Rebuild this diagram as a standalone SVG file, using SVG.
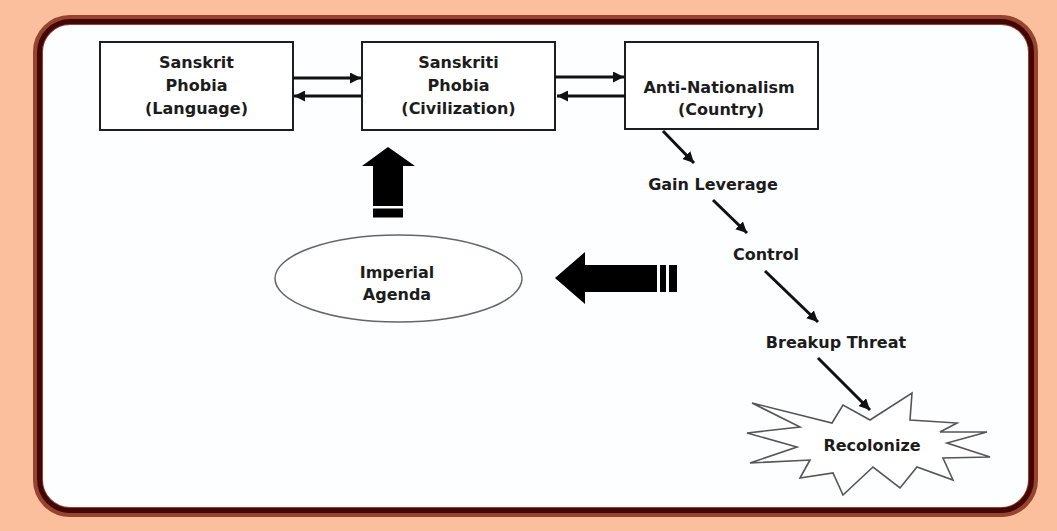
<svg xmlns="http://www.w3.org/2000/svg" width="1057" height="531" viewBox="0 0 1057 531">
<defs>
<style>
.lbl{font-family:"DejaVu Sans",Verdana,sans-serif;font-weight:bold;font-size:16px;fill:#1c1c1c;text-anchor:middle}
.box{fill:#ffffff;stroke:#1e1e1e;stroke-width:2}
.con{stroke:#111;stroke-width:3;fill:none}
.big{fill:#000}
</style>
<marker id="ah" markerUnits="userSpaceOnUse" markerWidth="12" markerHeight="11" refX="11" refY="5.5" orient="auto">
<path d="M0,0 L11,5.5 L0,11 z" fill="#111"/>
</marker>
</defs>
<rect x="0" y="0" width="1057" height="531" fill="#fbbf9e"/>
<rect x="38" y="20" width="995" height="492" rx="32" ry="32" fill="#fdfeff" stroke="#96432f" stroke-width="10"/>
<rect x="39.5" y="21.5" width="992" height="489" rx="31" ry="31" fill="none" stroke="#420705" stroke-width="5"/>

<g id="box-language">
<rect class="box" x="100" y="42" width="193" height="88"/>
<text class="lbl" x="196.5" y="68">Sanskrit</text>
<text class="lbl" x="196.5" y="91">Phobia</text>
<text class="lbl" x="196.5" y="114">(Language)</text>
</g>
<g id="box-civilization">
<rect class="box" x="362" y="42" width="193" height="88"/>
<text class="lbl" x="458.5" y="68">Sanskriti</text>
<text class="lbl" x="458.5" y="91">Phobia</text>
<text class="lbl" x="458.5" y="114">(Civilization)</text>
</g>
<g id="box-country">
<rect class="box" x="625" y="42" width="193" height="87" stroke-width="3"/>
<text class="lbl" x="719" y="93">Anti-Nationalism</text>
<text class="lbl" x="721" y="115">(Country)</text>
</g>
<g id="gain-leverage"><text class="lbl" x="713" y="190">Gain Leverage</text></g>
<g id="control"><text class="lbl" x="766" y="260">Control</text></g>
<g id="breakup-threat"><text class="lbl" x="836" y="348">Breakup Threat</text></g>
<g id="recolonize">
<polygon points="752,403 832,423 843,405 870,420 912,393 910,420 957,423 940,432 987,432 947,443 990,457 943,458 953,480 917,467 900,488 873,467 843,495 833,473 800,478 810,460 750,463 797,447 747,433 800,427" fill="#ffffff" stroke="#555" stroke-width="1.6" stroke-linejoin="miter"/>
<text class="lbl" x="872" y="451">Recolonize</text>
</g>
<g id="imperial-agenda">
<ellipse cx="398.5" cy="278.5" rx="123.5" ry="43.5" fill="#ffffff" stroke="#666" stroke-width="1.5"/>
<text class="lbl" x="397" y="278">Imperial</text>
<text class="lbl" x="397" y="300">Agenda</text>
</g>

<g id="connectors">
<line class="con" x1="293" y1="78" x2="361" y2="78" marker-end="url(#ah)"/>
<line class="con" x1="362" y1="96" x2="294" y2="96" marker-end="url(#ah)"/>
<line class="con" x1="555" y1="77" x2="624" y2="77" marker-end="url(#ah)"/>
<line class="con" x1="625" y1="96" x2="557" y2="96" marker-end="url(#ah)"/>
<line class="con" x1="663" y1="131" x2="694" y2="163" marker-end="url(#ah)"/>
<line class="con" x1="713" y1="200" x2="747" y2="233" marker-end="url(#ah)"/>
<line class="con" x1="765" y1="271" x2="818" y2="322" marker-end="url(#ah)"/>
<line class="con" x1="818" y1="358" x2="870" y2="410" marker-end="url(#ah)"/>
<g id="up-arrow">
<path class="big" d="M388,147 L415,166 L403,166 L403,206 L373,206 L373,166 L362,166 z"/>
<rect class="big" x="373" y="208.5" width="30" height="9"/>
</g>
<g id="left-arrow">
<path class="big" d="M555,278 L585,252 L585,265 L657,265 L657,292 L585,292 L585,304 z"/>
<rect class="big" x="660" y="265" width="6" height="27"/>
<rect class="big" x="669" y="265" width="8" height="27"/>
</g>
</g>
</svg>
